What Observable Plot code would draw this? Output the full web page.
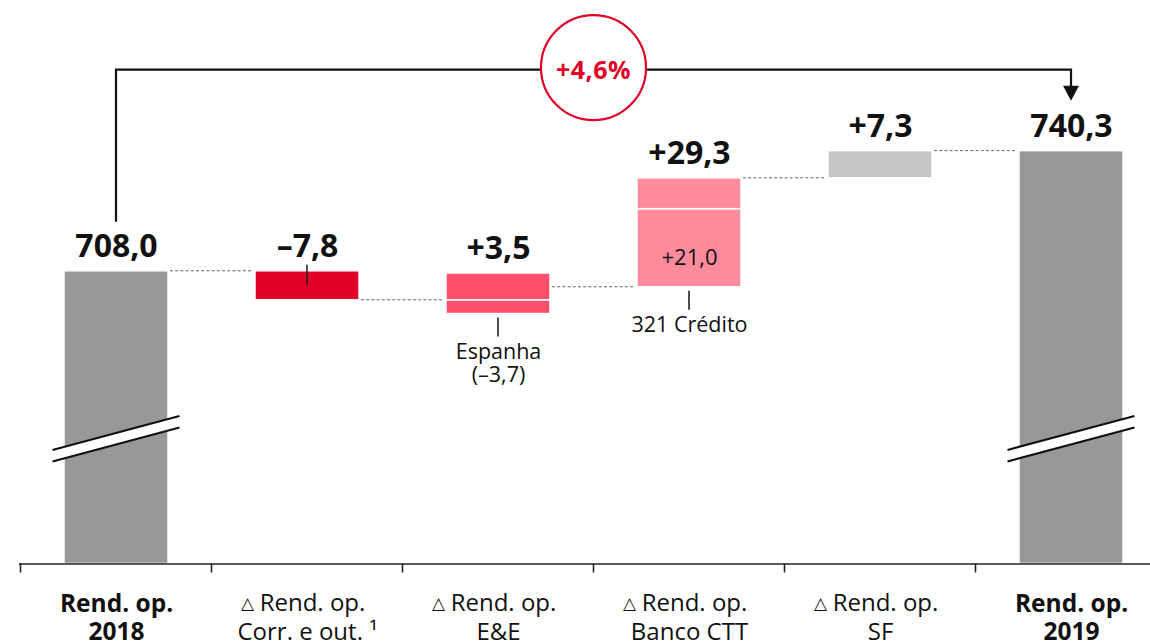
<!DOCTYPE html>
<html>
<head>
<meta charset="utf-8">
<script src="https://cdn.jsdelivr.net/npm/d3@7"></script>
<script src="https://cdn.jsdelivr.net/npm/@observablehq/plot@0.6"></script>
<style>
  html, body { margin: 0; padding: 0; background: #ffffff; }
  #chart svg { display: block; }
</style>
</head>
<body>
<div id="chart"></div>
<script>
// ---------- data ----------
const categories = ["2018", "Corr. e out.", "E&E", "Banco CTT", "SF", "2019"];
const tickLine1 = ["Rend. op.", "Rend. op.", "Rend. op.", "Rend. op.", "Rend. op.", "Rend. op."];
const tickLine2 = ["2018", "Corr. e out. ¹", "E&E", "Banco CTT", "SF", "2019"];
const tickIsDelta = [false, true, true, true, true, false];

const startValue = 708.0;
const endValue = 740.3;
const deltaCategories = ["Corr. e out.", "E&E", "Banco CTT", "SF"];
const deltaValues = [-7.8, 3.5, 29.3, 7.3];

// sub-components of each delta (stacked pieces)
const partCategories = ["Corr. e out.", "E&E", "E&E", "Banco CTT", "Banco CTT", "SF"];
const partValues = [-7.8, -3.7, 7.2, 21.0, 8.3, 7.3];

const noteCategories = ["E&E", "Banco CTT"];
const noteTexts = ["Espanha\n(–3,7)", "321 Crédito"];
const innerNoteCategory = "Banco CTT";
const innerNoteValue = 21.0;

const axisFloor = 629.3;   // value at the (broken) baseline
const axisCeil = 780.8;

const colorOf = {
  "2018": "#989898", "Corr. e out.": "#e10026", "E&E": "#ff506b",
  "Banco CTT": "#ff8b9d", "SF": "#c5c5c5", "2019": "#989898"
};
const RED = "#e10026";

// ---------- derived ----------
const fmt = v => Math.abs(v).toFixed(1).replace(".", ",");
const signed = v => (v < 0 ? "–" : "+") + fmt(v);

const bars = [{category: "2018", y1: axisFloor, y2: startValue}];
const totals = [startValue];
let total = startValue;
deltaCategories.forEach((c, i) => {
  let up = total, down = total;
  partCategories.forEach((pc, j) => {
    if (pc !== c) return;
    const v = partValues[j];
    if (v >= 0) { bars.push({category: c, y1: up, y2: up + v}); up += v; }
    else { bars.push({category: c, y1: down, y2: down + v}); down += v; }
  });
  total = Math.round((total + deltaValues[i]) * 10) / 10;
  totals.push(total);
});
bars.push({category: "2019", y1: axisFloor, y2: endValue});

const topOf = c => d3.max(bars.filter(b => b.category === c), b => Math.max(b.y1, b.y2));
const bottomOf = c => d3.min(bars.filter(b => b.category === c), b => Math.min(b.y1, b.y2));

const valueLabels = categories.map((c, i) => ({
  category: c,
  top: topOf(c),
  text: i === 0 ? fmt(startValue) : i === categories.length - 1 ? fmt(endValue) : signed(deltaValues[i - 1])
}));

const ticks = categories.map((c, i) => ({category: c, l1: tickLine1[i], l2: tickLine2[i], delta: tickIsDelta[i]}));
const notes = noteCategories.map((c, i) => ({category: c, bottom: bottomOf(c), text: noteTexts[i]}));
const ctiBase = totals[deltaCategories.indexOf(innerNoteCategory)];
const innerNotes = [{category: innerNoteCategory, y: ctiBase, text: signed(innerNoteValue)}];
const pct = (endValue / startValue - 1) * 100;
const pctText = "+" + pct.toFixed(1).replace(".", ",") + "%";

// ---------- custom decorations drawn with the plot's scales ----------
function decor(index, scales) {
  const sx = scales.x, sy = scales.y;
  const bw = typeof sx.bandwidth === "function" ? sx.bandwidth() : sx.bandwidth;
  const step = sx(categories[1]) - sx(categories[0]);
  const cx = c => sx(c) + bw / 2;
  const g = d3.create("svg:g");

  // axis ticks at band boundaries
  const base = sy(axisFloor);
  categories.forEach(c => {
    const xb = sx(c) - (step - bw) / 2;
    g.append("line").attr("x1", xb).attr("x2", xb).attr("y1", base).attr("y2", base + 9)
      .attr("stroke", "#222").attr("stroke-width", 1.6);
  });

  // dashed connectors
  for (let i = 0; i < categories.length - 1; i++) {
    const yv = sy(totals[i]);
    g.append("line")
      .attr("x1", sx(categories[i]) + bw + 2).attr("x2", sx(categories[i + 1]) - 2)
      .attr("y1", yv).attr("y2", yv)
      .attr("stroke", "#666").attr("stroke-width", 1).attr("stroke-dasharray", "3,2.2");
  }

  // axis break marks
  ["2018", "2019"].forEach(c => {
    const yb = base - 130.5, half = 63.5, rise = 17, gap = 11.5;
    const x0 = cx(c) - half, x1 = cx(c) + half;
    g.append("polygon")
      .attr("points", `${x0},${yb + rise} ${x1},${yb - rise} ${x1},${yb - rise + gap} ${x0},${yb + rise + gap}`)
      .attr("fill", "#fff");
    [0, gap].forEach(o => {
      g.append("line").attr("x1", x0).attr("y1", yb + rise + o).attr("x2", x1).attr("y2", yb - rise + o)
        .attr("stroke", "#111").attr("stroke-width", 2.2);
    });
  });

  // leader ticks
  const corrTop = sy(topOf("Corr. e out."));
  g.append("line").attr("x1", cx("Corr. e out.")).attr("x2", cx("Corr. e out."))
    .attr("y1", corrTop - 6).attr("y2", corrTop + 14).attr("stroke", "#222").attr("stroke-width", 1.6);
  notes.forEach(n => {
    const yb = sy(n.bottom);
    g.append("line").attr("x1", cx(n.category)).attr("x2", cx(n.category))
      .attr("y1", yb + 4).attr("y2", yb + 23).attr("stroke", "#222").attr("stroke-width", 1.6);
  });

  // top arrow
  const xa = cx("2018"), xb = cx("2019");
  const ya = sy(startValue) - 49, yt = sy(endValue) - 50, ytop = yt - 31;
  g.append("path").attr("d", `M${xa},${ya}V${ytop}H${xb}V${yt - 14}`)
    .attr("fill", "none").attr("stroke", "#111").attr("stroke-width", 2.2);
  g.append("polygon").attr("points", `${xb - 8},${yt - 15} ${xb + 8},${yt - 15} ${xb},${yt}`).attr("fill", "#111");

  // circle with growth
  const ccx = (cx("E&E") + cx("Banco CTT")) / 2, ccy = ytop - 2;
  g.append("circle").attr("cx", ccx).attr("cy", ccy).attr("r", 52.5)
    .attr("fill", "#fff").attr("stroke", RED).attr("stroke-width", 2.2);
  g.append("text").attr("x", ccx).attr("y", ccy + 11).attr("text-anchor", "middle")
    .attr("fill", RED).attr("font-weight", 700).attr("font-size", 25).attr("letter-spacing", 0.5)
    .attr("font-family", "'Open Sans', sans-serif").text(pctText);
  return g.node();
}

// ---------- plot ----------
const chart = Plot.plot({
  width: 1150,
  height: 644,
  marginLeft: 19,
  marginRight: 0,
  marginTop: 0,
  marginBottom: 80,
  style: {fontFamily: "'Open Sans', sans-serif", background: "#fff", overflow: "visible"},
  x: {domain: categories, range: [19.2, 1168.8], paddingInner: 0.455, paddingOuter: 0.2275, axis: null},
  y: {domain: [axisFloor, axisCeil], range: [563.5, 0], axis: null},
  marks: [
    Plot.barY(bars, {x: "category", y1: "y1", y2: "y2", fill: d => colorOf[d.category], stroke: "#fff", strokeWidth: 1.5}),
    Plot.ruleY([axisFloor], {stroke: "#222", strokeWidth: 1.6}),
    decor,
    Plot.text(valueLabels, {x: "category", y: "top", text: "text", fontSize: 32, fontWeight: 700,
      fill: "#111", lineAnchor: "top", dy: -37}),
    Plot.text(notes, {x: "category", y: "bottom", text: "text", fontSize: 21.5, fill: "#111",
      lineAnchor: "top", lineHeight: 1.1, dy: 27.8}),
    Plot.text(innerNotes, {x: "category", y: "y", text: "text", fontSize: 22, fill: "#111",
      lineAnchor: "top", dy: -38}),
    // x tick labels
    Plot.text(ticks.filter(d => !d.delta), {x: "category", y: () => axisFloor, text: d => d.l1 + "\n" + d.l2,
      fontSize: 24.5, fontWeight: 700, fill: "#111", lineAnchor: "top", lineHeight: 1.14, dy: 28.3}),
    Plot.text(ticks.filter(d => d.delta), {x: "category", y: () => axisFloor, text: "l1",
      fontSize: 24, fill: "#111", lineAnchor: "top", dx: 5, dy: 30}),
    Plot.text(ticks.filter(d => d.delta), {x: "category", y: () => axisFloor, text: "l2",
      fontSize: 24, fill: "#111", lineAnchor: "top", dy: 58.5}),
    Plot.text(ticks.filter(d => d.delta), {x: "category", y: () => axisFloor, text: () => "△",
      fontSize: 17, fontFamily: "DejaVu Sans", fill: "#111", lineAnchor: "top", dx: -60, dy: 33.4})
  ]
});
document.getElementById("chart").appendChild(chart);
</script>
</body>
</html>
